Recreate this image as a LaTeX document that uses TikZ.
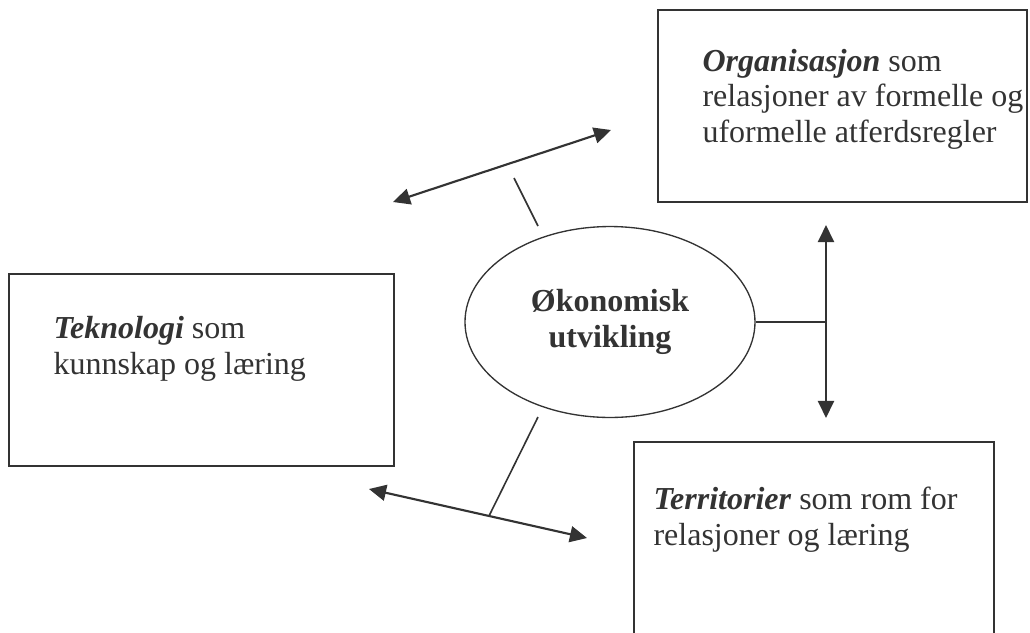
\documentclass[tikz,border=0pt]{standalone}
\usepackage{fontspec}
\setmainfont{Liberation Serif}
\usetikzlibrary{shapes.geometric, arrows.meta, positioning}

\begin{document}
\begin{tikzpicture}[x=0.375pt,y=-0.375pt,color=black!80,
    >={Triangle[length=6.4pt,width=6pt]},
    box/.style={draw, rectangle, line width=0.9pt, inner sep=0pt},
    txt/.style={anchor=base west, align=left, inner sep=0pt,
      font=\fontsize{12}{13.3}\selectfont},
    link/.style={line width=0.8pt},
    tick/.style={line width=0.6pt}]
  \useasboundingbox (0,0) rectangle (1030,633);
  \clip (0,0) rectangle (1030,633);

  % centre
  \node[ellipse, draw, line width=0.5pt, minimum width=108.75pt, minimum height=71.6pt,
    align=center, font=\fontsize{12}{13.5}\selectfont\bfseries] (eco) at (610,322)
    {\raisebox{-1pt}{Økonomisk}\\\raisebox{-1pt}{utvikling}};

  % boxes
  \node[box, minimum width=138.4pt, minimum height=72pt] (org) at (842.5,106) {};
  \node[box, minimum width=144.4pt, minimum height=72pt] (tek) at (201.5,370) {};
  \node[box, minimum width=135pt, minimum height=96.75pt] (ter) at (814,571) {};

  % texts (anchored at the baseline of their last line)
  \node[txt] (orgtxt) at (702,142) {\textbf{\textit{Organisasjon}} som\\relasjoner av formelle og\\uformelle atferdsregler};
  \node[txt] (tektxt) at (53,374) {\textbf{\textit{Teknologi}} som\\kunnskap og læring};
  \node[txt] (tertxt) at (653,545) {\textbf{\textit{Territorier}} som rom for\\relasjoner og læring};

  % connectors
  \coordinate (up1) at (393,202);
  \coordinate (up2) at (611,130);
  \coordinate (upa) at (538,226);
  \coordinate (upb) at (514,178);
  \coordinate (rt1) at (826,225);
  \coordinate (rt2) at (826,418);
  \coordinate (lo1) at (369,489);
  \coordinate (lo2) at (587,538);
  \coordinate (loa) at (538,417);
  \coordinate (lob) at (489,516);

  \draw[link,<->] (up1) -- (up2);
  \draw[tick] (upa) -- (upb);
  \draw[link,<->] (rt1) -- (rt2);
  \draw[tick] (eco.east) -- (eco.east -| rt1);
  \draw[link,<->] (lo1) -- (lo2);
  \draw[tick] (loa) -- (lob);
\end{tikzpicture}
\end{document}
